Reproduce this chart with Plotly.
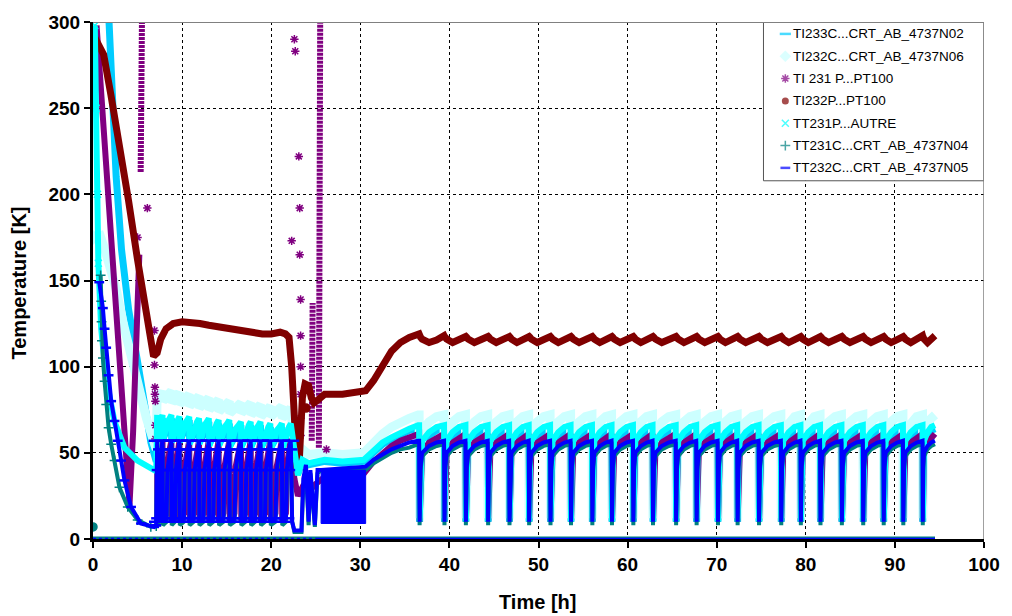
import plotly.graph_objects as go

# ---------------------------------------------------------------- colours
SKY, PALE, PURPLE, BROWN = "#00CCFF", "#CCFFFF", "#800080", "#800000"
CYAN, TEAL, BLUE = "#00FFFF", "#008080", "#0000FF"

NAMES = ["TI233C...CRT_AB_4737N02", "TI232C...CRT_AB_4737N06", "TI 231 P...PT100",
         "TI232P...PT100", "TT231P...AUTRE", "TT231C...CRT_AB_4737N04",
         "TT232C...CRT_AB_4737N05"]

# ---------------------------------------------------------------- cool-down (0-7 h)
N02_EARLY_T = [1.8, 2.2, 2.6, 3.2, 4.0, 5.0, 5.8, 6.5, 7.1]
N02_EARLY_K = [300, 255, 210, 168, 133, 103, 76, 56, 45]
N06_EARLY_T = [0.0, 0.8, 1.5, 2.6, 3.4, 4.3, 5.2, 6.0, 6.8, 7.1]
N06_EARLY_K = [175, 176, 165, 145, 125, 104, 85, 70, 57, 52]
P231_EARLY_T = [0.4, 2.2, 4.1, 4.5, 5.0, 5.2]
P231_EARLY_K = [298, 160, 20, 62, 122, 165]
AUT_EARLY_T = [0.2, 0.35, 0.5, 0.6, 0.92, 1.48, 2.42, 3.53, 5.0, 6.87, 7.1]
AUT_EARLY_K = [298, 250, 200, 160, 122, 93, 68, 53, 45.5, 40, 41]
N04_EARLY_T = [0.86, 0.92, 0.96, 1.0, 1.11, 1.3, 1.48, 1.75, 2.04, 2.42, 2.97, 3.9, 5.01, 6.49, 7.1]
N04_EARLY_K = [153, 138, 126, 115, 105, 91.5, 78, 64.6, 55, 45.5, 30, 18.6, 11, 7.1, 7.5]
N05_EARLY_T = [0.7, 1.11, 1.3, 1.48, 1.75, 2.04, 2.42, 2.78, 3.15, 3.53, 4.27, 5.38, 6.87, 7.1]
N05_EARLY_K = [149, 134, 122, 111, 95, 80, 68.5, 57, 45.5, 34, 18.6, 9, 7, 8]

# TI232P is a smooth trace until the periodic regime
P232_T = [0.0, 0.3, 1.2, 2.0, 3.0, 4.0, 5.0, 5.5, 6.0, 6.5, 6.8, 7.2, 7.6, 8.2, 9.0, 10.0,
          11.0, 12.0, 13.0, 14.0, 15.0, 16.0, 17.0, 18.0, 19.0, 20.0, 21.0, 21.6, 22.0,
          22.3, 22.6, 22.9, 23.1, 23.3, 23.5, 23.8, 24.2, 24.5, 24.8, 25.3, 26.0, 28.0,
          30.0, 30.6, 31.5, 32.5, 33.5, 34.5, 35.5, 36.6]
P232_K = [293, 290, 281, 258, 228, 196, 162, 146, 130, 114, 106, 108, 116, 122, 125, 126,
          126, 125, 124, 123, 122, 121, 120, 120, 119, 119, 120, 119, 117,
          100, 60, 42, 40, 60, 82, 90, 89, 82, 79, 81, 84, 84,
          85, 86, 92, 101, 109, 114, 117, 119]
P232_DOT_T, P232_DOT_K = [23.9], [76]

# ---------------------------------------------------------------- short cycles (7-22 h)
MID_START = [7.2, 7.8, 8.8, 9.7, 10.8, 11.9, 13.0, 14.1, 15.3, 16.6, 17.7, 18.8, 19.9, 21.2]
MID_END = 22.2
MID_PHASE = [0.0, 0.04, 0.45, 0.55, 0.8, 1.0]
MID_N06 = [82, 76, 78, 80, 81, 82]
MID_N06_DRIFT = [4, 4, 3, 2, 1, 0, -1, -2, -3, -3, -4, -5, -5, -6]
MID_N02 = [68, 56, 61, 64, 66, 68]
MID_AUT = [70, 55, 63, 66, 68, 70]
MID_CY_DRIFT = [2, 2, 1, 1, 0, 0, -1, -1, -2, -2, -2, -3, -3, -3]
MID_P231 = [57, 10, 15, 42, 52, 57]
MID_N04 = [55, 8, 10, 38, 50, 55]
MID_N05 = [57, 10, 12, 40, 52, 57]

# ---------------------------------------------------------------- transition (22-36.6 h)
TR_T = [22.2, 22.6, 23.0, 23.5, 24.2, 26.0, 28.0, 30.4, 31.5, 32.5, 33.5, 34.5, 35.5, 36.5]
TR_N06 = [75, 55, 45, 52, 49, 50, 49, 50, 56, 61, 65, 68, 70, 72]
TR_N02 = [66, 48, 38, 45, 43, 45, 44, 45, 50, 55, 58, 61, 63, 64]
TR_AUT = [67, 50, 37, 46, 44, 46, 45, 46, 51, 56, 59, 62, 64, 66]
TR_P231_T = [22.2, 22.6, 23.0, 23.5, 24.3, 25.0, 26.0, 28.0, 30.4, 31.5, 32.5, 33.5, 34.5, 35.5, 36.5]
TR_P231_K = [58, 35, 25, 30, 28, 32, 36, 37, 38, 45, 50, 54, 57, 59, 61]
TR_LOW_T = [22.2, 22.35, 22.6, 23.4, 23.6, 23.9, 24.2, 24.4, 24.9, 25.2, 25.6, 30.6,
            31.5, 32.5, 33.5, 34.5, 35.5, 36.5]
TR_N04 = [53, 10, 4, 4, 30, 40, 8, 38, 7, 38, 40, 40, 44, 47, 50, 52, 53, 55]
TR_N05 = [56, 10, 5, 5, 35, 43, 10, 40, 8, 40, 40, 42, 46, 49, 52, 54, 56, 57]
BLOCK_T, BLOCK_K = [25.6, 30.6], [9, 40]

# ---------------------------------------------------------------- regeneration cycles (36.6-94.5 h)
CYC_START = [36.6, 39.4, 41.8, 44.3, 46.7, 48.9, 51.3, 53.6, 56.0, 58.2, 60.6, 62.8, 65.4,
             67.7, 70.1, 72.3, 74.7, 77.2, 79.4, 81.6, 84.0, 86.4, 88.7, 90.9, 93.1]
CYC_END = 94.5
CYC_PHASE = [0.0, 0.02, 0.06, 0.12, 0.4, 0.7, 1.0]
CYC_N06 = [72, 12, 50, 63, 68, 71, 72]
CYC_N02 = [64, 10, 44, 55, 60, 63, 64]
CYC_AUT = [66, 10, 45, 57, 62, 65, 66]
CYC_P231 = [61, 10, 35, 50, 56, 59, 61]
CYC_N04 = [55, 8, 40, 48, 52, 54, 55]
CYC_N05 = [57, 10, 42, 50, 54, 56, 57]
CYC_P232 = [118, 117.5, 117, 116, 114, 115.5, 118]

# ---------------------------------------------------------------- isolated TI 231 readings
P231_PTS_T = [5.0, 6.1, 6.9, 6.9, 6.95, 6.95, 7.0, 7.0, 7.0, 22.3, 22.6, 22.7, 23.1, 23.2,
              23.2, 23.3, 23.3, 23.3, 23.3, 23.3, 23.3, 26.2]
P231_PTS_K = [175, 192, 121, 101, 88, 84, 80, 66, 58, 173, 290, 283, 222, 192,
              165, 139, 118, 100, 84, 70, 60, 52]
P231_COL_T = [(5.35, 5.5), (24.55, 24.65), (25.35, 25.5)]
P231_COL_K = [(213, 305), (57, 137), (53, 305)]

# drop-outs recorded as 0 K
ZERO_T = [0.0, 25.0, 94.5]
ZERO_K = [0, 0, 0]

# legend box, in screen pixels (left, right, top, bottom)
LEG_BOX = (768, 990, 18, 178)
LEG_ROW_Y = [30, 52.5, 75, 97.5, 120, 142.5, 165]


def periodic(starts, t_end, phase, levels, drift=None):
    bounds = list(starts) + [t_end]
    xs, ys = [], []
    for i in range(len(starts)):
        a, b = bounds[i], bounds[i + 1]
        off = drift[i] if drift else 0
        for f, v in zip(phase, levels):
            xs.append(a + f * (b - a))
            ys.append(v + off)
    return xs, ys


def join(*parts):
    xs, ys = [], []
    for x, y in parts:
        xs += list(x)
        ys += list(y)
    return xs, ys


fig = go.Figure()


def line(x, y, color, width, dash="solid"):
    fig.add_trace(go.Scatter(x=x, y=y, mode="lines", showlegend=False, hoverinfo="skip",
                             line=dict(color=color, width=width, dash=dash)))


def pts(x, y, color, symbol, size, lw=1.5):
    fig.add_trace(go.Scatter(x=x, y=y, mode="markers", showlegend=False, hoverinfo="skip",
                             marker=dict(symbol=symbol, size=size, color=color,
                                         line=dict(color=color, width=lw))))


# TI233C N02
x, y = join((N02_EARLY_T, N02_EARLY_K),
            periodic(MID_START, MID_END, MID_PHASE, MID_N02, MID_CY_DRIFT),
            (TR_T, TR_N02),
            periodic(CYC_START, CYC_END, CYC_PHASE, CYC_N02))
line(x, y, SKY, 7)

# TI232C N06
x, y = join((N06_EARLY_T, N06_EARLY_K),
            periodic(MID_START, MID_END, MID_PHASE, MID_N06, MID_N06_DRIFT),
            (TR_T, TR_N06),
            periodic(CYC_START, CYC_END, CYC_PHASE, CYC_N06))
line(x, y, PALE, 9)
pts(N06_EARLY_T[:1], N06_EARLY_K[:1], PALE, "diamond", 10)

# TI 231 P
x, y = join((P231_EARLY_T, P231_EARLY_K), ([None], [None]),
            periodic(MID_START, MID_END, MID_PHASE, MID_P231),
            (TR_P231_T, TR_P231_K),
            periodic(CYC_START, CYC_END, CYC_PHASE, CYC_P231))
line(x, y, PURPLE, 6)
for (ta, tb), (ka, kb) in zip(P231_COL_T, P231_COL_K):
    line([ta, tb], [ka, kb], PURPLE, 6, "3px,1px")
pts(P231_PTS_T, P231_PTS_K, PURPLE, "asterisk", 7)

# TI232P
x, y = join((P232_T, P232_K), periodic(CYC_START, CYC_END, CYC_PHASE, CYC_P232))
line(x, y, BROWN, 7)
pts(P232_DOT_T, P232_DOT_K, BROWN, "circle", 8)

# TT231P AUTRE
x, y = join((AUT_EARLY_T, AUT_EARLY_K),
            periodic(MID_START, MID_END, MID_PHASE, MID_AUT, MID_CY_DRIFT),
            (TR_T, TR_AUT),
            periodic(CYC_START, CYC_END, CYC_PHASE, CYC_AUT))
line(x, y, CYAN, 6)
pts(AUT_EARLY_T[:4], AUT_EARLY_K[:4], CYAN, "x-thin", 7)

# TT231C N04
x, y = join((N04_EARLY_T, N04_EARLY_K),
            periodic(MID_START, MID_END, MID_PHASE, MID_N04),
            (TR_LOW_T, TR_N04),
            periodic(CYC_START, CYC_END, CYC_PHASE, CYC_N04))
line(x, y, TEAL, 4)
pts(N04_EARLY_T, N04_EARLY_K, TEAL, "cross-thin", 7)
pts([0.0], [7], TEAL, "circle", 8)
line(ZERO_T, ZERO_K, TEAL, 5)

# TT232C N05
mx, my = periodic(MID_START, MID_END, MID_PHASE, MID_N05)
x, y = join((N05_EARLY_T, N05_EARLY_K), (mx, my),
            (TR_LOW_T, TR_N05),
            periodic(CYC_START, CYC_END, CYC_PHASE, CYC_N05))
line(x, y, BLUE, 4)
pts(N05_EARLY_T, N05_EARLY_K, BLUE, "line-ew", 7, 2.5)
pts(mx, my, BLUE, "line-ew", 12, 2.5)
fig.add_trace(go.Scatter(x=[BLOCK_T[0], BLOCK_T[1], BLOCK_T[1], BLOCK_T[0], BLOCK_T[0]],
                         y=[BLOCK_K[0], BLOCK_K[0], BLOCK_K[1], BLOCK_K[1], BLOCK_K[0]],
                         mode="lines", fill="toself", fillcolor=BLUE,
                         line=dict(color=BLUE, width=1), showlegend=False, hoverinfo="skip"))
line(ZERO_T[1:], ZERO_K[1:], BLUE, 2.5)
line(ZERO_T[:2], ZERO_K[:2], BLUE, 2.5, "dot")

# ---------------------------------------------------------------- legend (pixel overlay axes)
LEG_SYMBOL = ["line-ew", "diamond", "asterisk", "circle", "x-thin", "cross-thin", "line-ew"]
LEG_COLOR = [SKY, PALE, PURPLE, BROWN, CYAN, TEAL, BLUE]
bl, br, bt, bb = LEG_BOX
fig.add_trace(go.Scatter(x=[bl, br, br, bl, bl], y=[bt, bt, bb, bb, bt], xaxis="x2", yaxis="y2",
                         mode="lines", fill="toself", fillcolor="white",
                         line=dict(color="#555555", width=1), showlegend=False, hoverinfo="skip"))
fig.add_trace(go.Scatter(x=[bl + 22] * 7, y=LEG_ROW_Y, xaxis="x2", yaxis="y2", mode="markers",
                         showlegend=False, hoverinfo="skip",
                         marker=dict(symbol=LEG_SYMBOL, size=[8, 9, 7, 7, 7, 7, 7],
                                     color=LEG_COLOR,
                                     line=dict(color=LEG_COLOR, width=[2.5, 0, 1.5, 0, 1.5, 1.5, 2.5]))))
for name, yy in zip(NAMES, LEG_ROW_Y):
    fig.add_annotation(x=bl + 28, y=yy, xref="x2", yref="y2", text=name, showarrow=False,
                       xanchor="left", yanchor="middle",
                       font=dict(family="Liberation Sans, Arial", size=13.5, color="black"))

# ---------------------------------------------------------------- frame and titles
fig.add_shape(type="line", xref="x", yref="y", x0=0, x1=100, y0=300, y1=300,
              line=dict(color="#808080", width=2), layer="above")
fig.add_shape(type="line", xref="x", yref="y", x0=100, x1=100, y0=0, y1=300,
              line=dict(color="#808080", width=1.5), layer="above")

TITLE_FONT = dict(family="Liberation Sans, Arial", size=20, color="black", weight="bold")
fig.add_annotation(text="Time [h]", xref="paper", yref="paper", x=0.4994, y=-0.1228,
                   showarrow=False, xanchor="center", yanchor="middle", font=TITLE_FONT)
fig.add_annotation(text="Temperature [K]", xref="paper", yref="paper", x=-0.0836, y=0.4952,
                   showarrow=False, xanchor="center", yanchor="middle", textangle=-90,
                   font=TITLE_FONT)

TICK_FONT = dict(family="Liberation Sans, Arial", size=19, color="black", weight="bold")
GRID = dict(showgrid=True, gridcolor="black", gridwidth=1, griddash="3px,3px")
fig.update_layout(
    width=1012, height=616, margin=dict(l=93, r=22, t=18, b=77),
    paper_bgcolor="white", plot_bgcolor="white", showlegend=False,
    xaxis=dict(range=[0, 100], tickvals=list(range(0, 101, 10)), ticks="outside",
               ticklen=6, tickwidth=2, tickcolor="black", showline=True, linecolor="black",
               linewidth=3, zeroline=False, tickfont=TICK_FONT, layer="below traces", **GRID),
    yaxis=dict(range=[0, 300], tickvals=list(range(0, 301, 50)), ticks="outside",
               ticklen=6, tickwidth=2, tickcolor="black", showline=True, linecolor="black",
               linewidth=3, zeroline=False, tickfont=TICK_FONT, **GRID),
    xaxis2=dict(overlaying="x", range=[93, 990], visible=False, fixedrange=True),
    yaxis2=dict(overlaying="y", range=[539, 18], visible=False, fixedrange=True),
)

fig.write_html("out.html")
